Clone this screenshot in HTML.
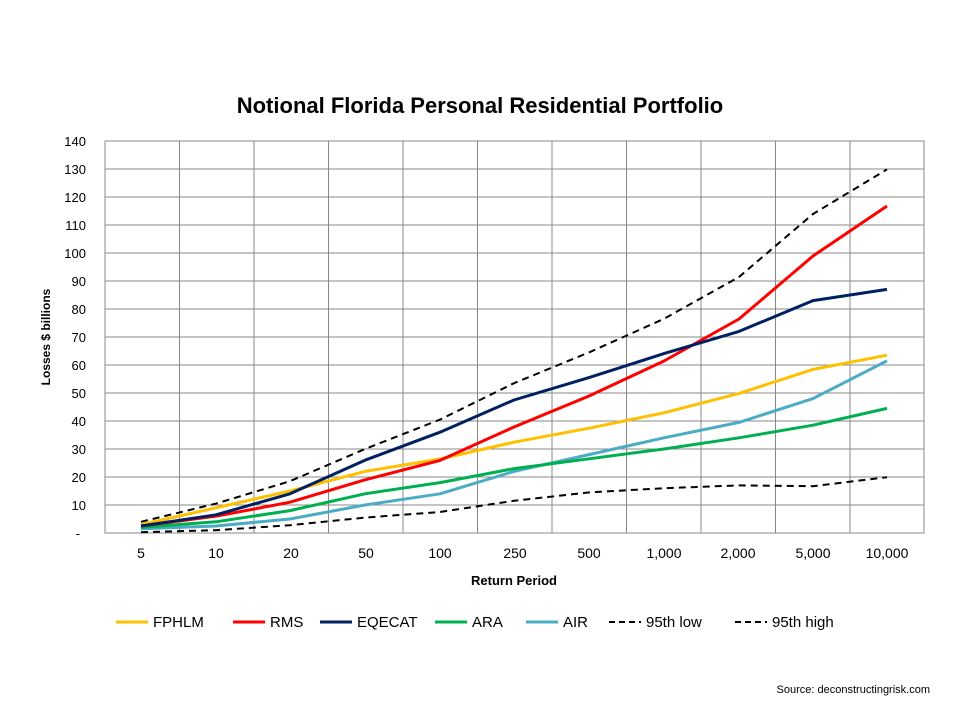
<!DOCTYPE html>
<html><head><meta charset="utf-8"><style>
body{margin:0;background:#fff;width:960px;height:720px;overflow:hidden;font-family:"Liberation Sans",sans-serif}
</style></head><body>
<svg width="960" height="720" xmlns="http://www.w3.org/2000/svg" font-family="Liberation Sans, sans-serif">
<rect width="960" height="720" fill="#fff"/>
<text x="480" y="113" text-anchor="middle" font-size="22" font-weight="bold">Notional Florida Personal Residential Portfolio</text>
<g stroke="#888" stroke-width="1" fill="none">
<rect x="105" y="141" width="819" height="392"/>
<path d="M105 169H924M105 197H924M105 225H924M105 253H924M105 281H924M105 309H924M105 337H924M105 365H924M105 393H924M105 421H924M105 449H924M105 477H924M105 505H924"/>
<path d="M179.5 141V533M254 141V533M328.5 141V533M403 141V533M477.5 141V533M552 141V533M626.5 141V533M701 141V533M775.5 141V533M850 141V533"/>
</g>
<g font-size="13" text-anchor="end" fill="#000">
<text x="86" y="146">140</text><text x="86" y="174">130</text><text x="86" y="202">120</text><text x="86" y="230">110</text><text x="86" y="258">100</text><text x="86" y="286">90</text><text x="86" y="314">80</text><text x="86" y="342">70</text><text x="86" y="370">60</text><text x="86" y="398">50</text><text x="86" y="426">40</text><text x="86" y="454">30</text><text x="86" y="482">20</text><text x="86" y="510">10</text><text x="80" y="538">-</text>
</g>
<g font-size="14" text-anchor="middle">
<text x="141" y="558">5</text><text x="216" y="558">10</text><text x="291" y="558">20</text><text x="366" y="558">50</text><text x="440" y="558">100</text><text x="515" y="558">250</text><text x="589" y="558">500</text><text x="664" y="558">1,000</text><text x="738" y="558">2,000</text><text x="813" y="558">5,000</text><text x="887" y="558">10,000</text>
</g>
<text x="514" y="585" text-anchor="middle" font-size="13" font-weight="bold">Return Period</text>
<text transform="translate(50 337) rotate(-90)" text-anchor="middle" font-size="12" font-weight="bold">Losses $ billions</text>
<g fill="none" stroke-width="3" stroke-linejoin="round">
<polyline stroke="#000" stroke-width="2" stroke-dasharray="7,5" points="141,532.2 216,530.2 290,525.2 365,517.6 440,512 514,500.8 589,492.4 664,488.2 739,485.4 813,486.2 887,477.2"/>
<polyline stroke="#FFC000" points="141,524.6 216,507.8 290,491 365,471.4 440,459 514,442.2 589,428.2 664,412.8 739,393.4 813,369.4 887,355.2"/>
<polyline stroke="#4BACC6" points="141,528.8 216,526 290,519 365,505 440,493.8 514,471.4 589,454.6 664,437.8 739,422.4 813,398.6 887,360.8"/>
<polyline stroke="#00B050" points="141,527.4 216,521.8 290,510.6 365,493.8 440,482.6 514,468.6 589,458.8 664,449 739,437.8 813,425.2 887,408.4"/>
<polyline stroke="#FF0000" points="141,526 216,516.2 290,502.2 365,479.8 440,460.4 514,427 589,396 664,361 739,319 813,256 887,206"/>
<polyline stroke="#002060" points="141,526 216,514.8 290,493.8 365,460.2 440,432.2 514,400 589,377.6 664,353.6 739,331.4 813,300.6 887,289.4"/>
<polyline stroke="#000" stroke-width="2" stroke-dasharray="7,5" points="141,521.8 216,503.6 290,481.2 365,449 440,419.6 514,383.2 589,352.4 664,318.8 739,277 813,214 887,169.4"/>
</g>
<g font-size="15">
<line x1="116" y1="622" x2="148" y2="622" stroke="#FFC000" stroke-width="3"/><text x="153" y="627">FPHLM</text>
<line x1="233" y1="622" x2="265" y2="622" stroke="#FF0000" stroke-width="3"/><text x="270" y="627">RMS</text>
<line x1="320" y1="622" x2="352" y2="622" stroke="#002060" stroke-width="3"/><text x="357" y="627">EQECAT</text>
<line x1="435" y1="622" x2="467" y2="622" stroke="#00B050" stroke-width="3"/><text x="472" y="627">ARA</text>
<line x1="526" y1="622" x2="558" y2="622" stroke="#4BACC6" stroke-width="3"/><text x="563" y="627">AIR</text>
<line x1="609" y1="622" x2="641" y2="622" stroke="#000" stroke-width="2" stroke-dasharray="6,4"/><text x="646" y="627">95th low</text>
<line x1="735" y1="622" x2="767" y2="622" stroke="#000" stroke-width="2" stroke-dasharray="6,4"/><text x="772" y="627">95th high</text>
</g>
<text x="930" y="693" text-anchor="end" font-size="11">Source: deconstructingrisk.com</text>
</svg>
</body></html>
